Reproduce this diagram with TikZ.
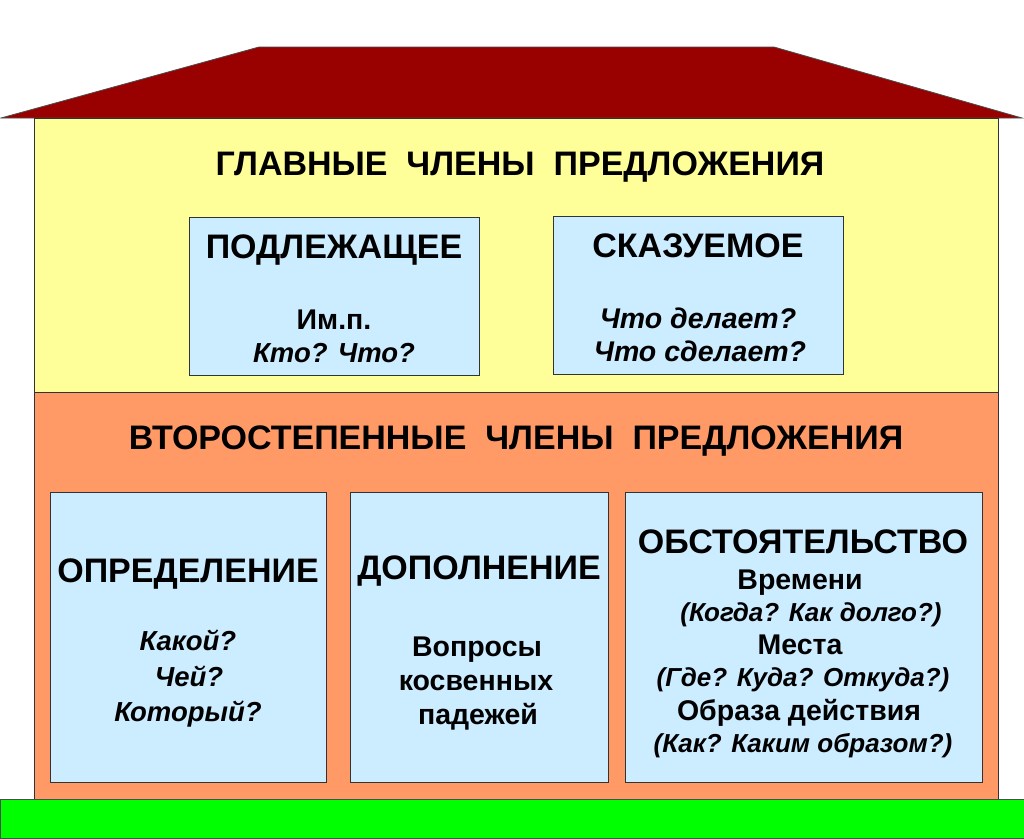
\documentclass[tikz,border=0pt]{standalone}
\usepackage{fontspec}
\setmainfont{Liberation Sans}
\usepackage{tikz}

\definecolor{roofred}{HTML}{990000}
\definecolor{wallyellow}{HTML}{FFFF99}
\definecolor{wallorange}{HTML}{FF9966}
\definecolor{boxblue}{HTML}{CCECFF}
\definecolor{grassgreen}{HTML}{00FF00}

\tikzset{
  box/.style={draw=black!80, fill=boxblue, line width=1pt, inner sep=0pt, anchor=north west},
  title/.style={font=\bfseries\fontsize{34}{38}\selectfont},
  boxname/.style={font=\bfseries\fontsize{34}{38}\selectfont},
  ask/.style={font=\bfseries\itshape\fontsize{27.5}{32}\selectfont},
  bigask/.style={font=\bfseries\itshape\fontsize{28.5}{32}\selectfont},
  smallask/.style={font=\bfseries\itshape\fontsize{26}{30}\selectfont},
  plain/.style={font=\bfseries\fontsize{28.5}{32}\selectfont},
}

\begin{document}
\begin{tikzpicture}[x=1pt,y=-1pt]
\useasboundingbox (0,0) rectangle (1024,838);
% roof and walls
\fill[white] (0,0) rectangle (1024,838);
\filldraw[fill=roofred, draw=black!70, line width=0.8pt] (1,118) -- (259,47) -- (774,47) -- (1022,118) -- cycle;
\filldraw[fill=wallyellow, draw=black!80, line width=1pt] (34,118) rectangle (998,392);
\filldraw[fill=wallorange, draw=black!80, line width=1pt] (34,392) rectangle (998,799);
\filldraw[fill=grassgreen, draw=black!70, line width=0.8pt] (0,799) rectangle (1024,838);

% main members
\node[title, anchor=base] (main) at (520,175) {ГЛАВНЫЕ\ \ ЧЛЕНЫ\ \ ПРЕДЛОЖЕНИЯ};
\node[box, minimum width=290, minimum height=158] (podl) at (189,217) {};
\node[box, minimum width=290, minimum height=158] (skaz) at (553,216) {};
\node[boxname, anchor=base] (podlname) at (334,258) {ПОДЛЕЖАЩЕЕ};
\node[plain, anchor=base] (podlcase) at (334,329) {Им.п.};
\node[ask, anchor=base] (podlask) at (334,362) {Кто? Что?};
\node[boxname, anchor=base] (skazname) at (698,257) {СКАЗУЕМОЕ};
\node[bigask, anchor=base] (skazask1) at (698,328) {Что делает?};
\node[bigask, anchor=base] (skazask2) at (700,361) {Что сделает?};

% secondary members
\node[title, anchor=base] (second) at (516,449) {ВТОРОСТЕПЕННЫЕ\ \ ЧЛЕНЫ\ \ ПРЕДЛОЖЕНИЯ};
\node[box, minimum width=276, minimum height=290] (opr) at (50,492) {};
\node[box, minimum width=258, minimum height=290] (dop) at (350,492) {};
\node[box, minimum width=357, minimum height=290] (obst) at (625,492) {};

\node[boxname, anchor=base] (oprname) at (188,582) {ОПРЕДЕЛЕНИЕ};
\node[ask, anchor=base] (opr1) at (188,650) {Какой?};
\node[ask, anchor=base] (opr2) at (189,686) {Чей?};
\node[ask, anchor=base] (opr3) at (188,721) {Который?};

\node[boxname, anchor=base] (dopname) at (479,579) {ДОПОЛНЕНИЕ};
\node[plain, anchor=base] (dop1) at (477,656) {Вопросы};
\node[plain, anchor=base] (dop2) at (476,690) {косвенных};
\node[plain, anchor=base] (dop3) at (478,724) {падежей};

\node[boxname, anchor=base] (obstname) at (803,553) {ОБСТОЯТЕЛЬСТВО};
\node[plain, anchor=base] (obst1) at (800,589) {Времени};
\node[smallask, anchor=base] (obst2) at (811,621) {(Когда? Как долго?)};
\node[plain, anchor=base] (obst3) at (800,654) {Места};
\node[smallask, anchor=base] (obst4) at (803,686) {(Где? Куда? Откуда?)};
\node[plain, anchor=base] (obst5) at (799,720) {Образа действия};
\node[smallask, anchor=base] (obst6) at (803,752) {(Как? Каким образом?)};
\end{tikzpicture}
\end{document}
